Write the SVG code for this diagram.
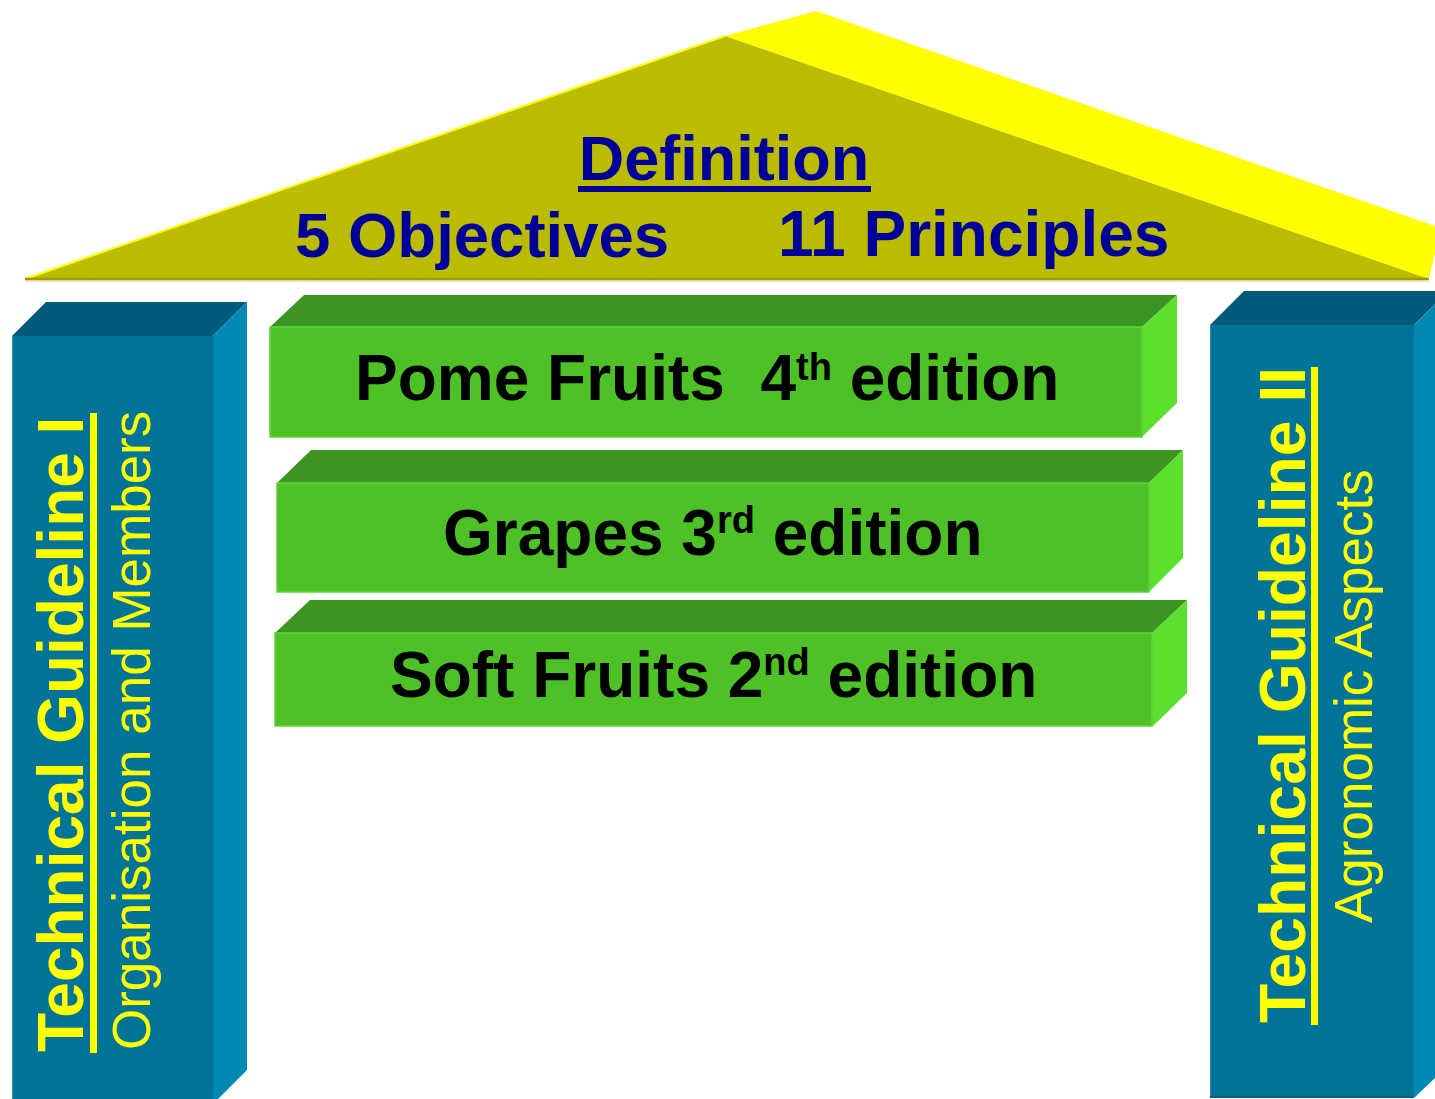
<svg xmlns="http://www.w3.org/2000/svg" width="1435" height="1099" viewBox="0 0 1435 1099">
<style>
.front-b{fill:#007399}
.top-b{fill:#005A7A}
.side-b{fill:#0088B5}
.front-g{fill:#4EC126}
.top-g{fill:#3C9522}
.side-g{fill:#5BE02D}
.ttl{font-family:"Liberation Sans",Arial,sans-serif;font-weight:bold}
.blue{fill:#000099}
.yel{fill:#FFFF00}
.reg{font-family:"Liberation Sans",Arial,sans-serif;font-weight:normal}
.blk{fill:#000000}
</style>
<rect width="1435" height="1099" fill="#FFFFFF"/>

<g id="roof">
  <polygon points="725,36 816,11 1435,226 1435,253 1429,279" fill="#FFFF00"/>
  <polygon points="25,279 725,36 1429,279" fill="#BBBB00"/>
  <polyline points="25,279 725,36" fill="none" stroke="#FFFF00" stroke-width="2"/>
  <line x1="25" y1="279" x2="1429" y2="279" stroke="#A09A00" stroke-width="2.5"/>
  <line x1="25" y1="281" x2="1429" y2="281" stroke="#D4D080" stroke-width="1"/>
  <text class="ttl blue" x="724" y="180" font-size="63" text-anchor="middle">Definition</text>
  <rect class="blue" x="578" y="186" width="293" height="6"/>
  <text class="ttl blue" x="295" y="257" font-size="63.5">5 Objectives</text>
  <text class="ttl blue" x="778" y="256" font-size="64">11 Principles</text>
</g>

<g id="pillar-left">
  <polygon class="top-b" points="12,336 46,302 247,302 213,336"/>
  <polygon class="side-b" points="213,336 247,302 247,1070 218,1099 213,1099"/>
  <rect class="front-b" x="12" y="336" width="201" height="763"/>
  <line x1="12.5" y1="336" x2="12.5" y2="1099" stroke="#2A8DB0" stroke-width="1"/>
  <text class="ttl yel" font-size="64" transform="translate(83,1052) rotate(-90)">Technical Guideline I</text>
  <rect class="yel" x="90" y="413" width="7" height="640"/>
  <text class="reg yel" font-size="53" transform="translate(150,1050) rotate(-90)">Organisation and Members</text>
</g>

<g id="pillar-right">
  <polygon class="top-b" points="1210,325 1244,291 1435,291 1435,304 1414,325"/>
  <polygon class="side-b" points="1414,325 1435,304 1435,1078 1415,1097 1414,1097"/>
  <rect class="front-b" x="1210" y="325" width="204" height="772"/>
  <line x1="1210.5" y1="325" x2="1210.5" y2="1097" stroke="#2A8DB0" stroke-width="1"/>
  <line x1="1210" y1="1097" x2="1414" y2="1097" stroke="#00607F" stroke-width="2"/>
  <text class="ttl yel" font-size="64.3" transform="translate(1305,1023) rotate(-90)">Technical Guideline II</text>
  <rect class="yel" x="1311" y="367" width="7" height="658"/>
  <text class="reg yel" font-size="53" transform="translate(1372,923) rotate(-90)">Agronomic Aspects</text>
</g>

<g id="box-pome">
  <polygon class="top-g" points="270,327 304,295 1177,295 1142,327"/>
  <polygon class="side-g" points="1142,327 1177,295 1177,403 1142,437"/>
  <rect class="front-g" x="270" y="327" width="872" height="110"/>
  <rect x="270" y="327" width="872" height="110" fill="none" stroke="#5CD43A" stroke-width="1.5"/>
  <text class="ttl blk" x="355" y="400" font-size="64">Pome Fruits&#160; 4<tspan font-size="38" dy="-20">th</tspan><tspan dy="20"> edition</tspan></text>
</g>

<g id="box-grapes">
  <polygon class="top-g" points="277,483 311,450 1183,450 1149,483"/>
  <polygon class="side-g" points="1149,483 1183,450 1183,558 1149,592"/>
  <rect class="front-g" x="277" y="483" width="872" height="109"/>
  <rect x="277" y="483" width="872" height="109" fill="none" stroke="#5CD43A" stroke-width="1.5"/>
  <text class="ttl blk" x="443" y="555" font-size="64">Grapes 3<tspan font-size="38" dy="-22">rd</tspan><tspan dy="22"> edition</tspan></text>
</g>

<g id="box-soft">
  <polygon class="top-g" points="275,633 310,600 1187,600 1152,633"/>
  <polygon class="side-g" points="1152,633 1187,600 1187,693 1152,727"/>
  <rect class="front-g" x="275" y="633" width="877" height="93"/>
  <rect x="275" y="633" width="877" height="93" fill="none" stroke="#5CD43A" stroke-width="1.5"/>
  <text class="ttl blk" x="390" y="697" font-size="64">Soft Fruits 2<tspan font-size="38" dy="-22">nd</tspan><tspan dy="22"> edition</tspan></text>
</g>

<g id="connectors"></g>
</svg>
